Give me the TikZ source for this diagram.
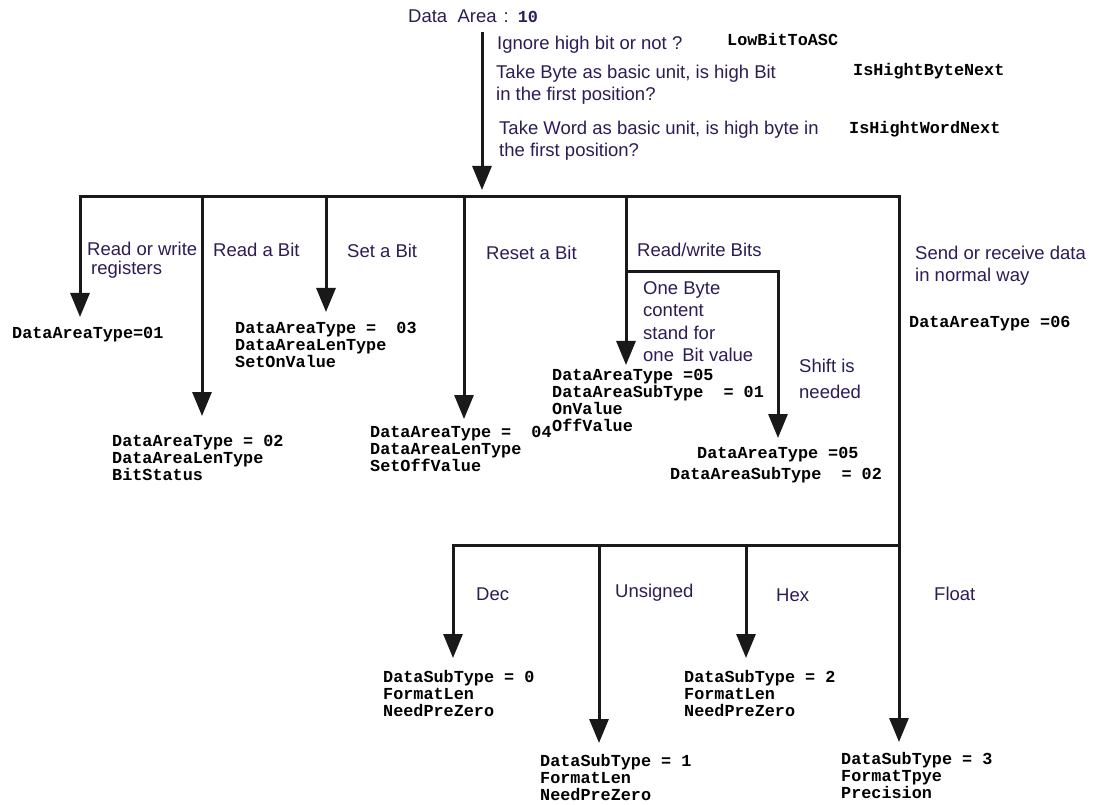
\documentclass[tikz,border=0pt]{standalone}
\usepackage{fontspec}
\setmainfont{Liberation Sans}
\newfontfamily\codefont{Liberation Mono}[BoldFont={Liberation Mono Bold}]
\usetikzlibrary{arrows.meta}
\definecolor{lbl}{RGB}{45,28,85}
\definecolor{ln}{RGB}{25,25,25}
\tikzset{
  lab/.style={anchor=base west,inner sep=0pt,align=left,text=lbl,
    font=\fontsize{18.5pt}{22.5pt}\selectfont},
  code/.style={anchor=base west,inner sep=0pt,align=left,text=black,
    font=\codefont\bfseries\fontsize{16.8pt}{17pt}\selectfont},
  wire/.style={draw=ln,line width=3pt,line cap=rect},
  flow/.style={draw=ln,line width=3pt,-{Triangle[length=24pt,width=19pt]}},
}
\begin{document}
\begin{tikzpicture}[x=1pt,y=-1pt]
\useasboundingbox[fill=white] (0,0) rectangle (1096,805);
% note: for multi-line nodes the base anchor is the baseline of the last line

% header
\node[lab] (title) at (408,23) {Data\ \ Area\hspace{7pt}:\hspace{9pt}{\codefont\bfseries\fontsize{16.8pt}{17pt}\selectfont 10}};
\node[lab] (q1) at (497,50) {Ignore high bit or not ?};
\node[code] (c1) at (727,46) {LowBitToASC};
\node[lab] (q2) at (496,101) {Take Byte as basic unit, is high Bit\\in the first position?};
\node[code] (c2) at (853,76) {IsHightByteNext};
\node[lab] (q3) at (499,157) {Take Word as basic unit, is high byte in\\the first position?};
\node[code] (c3) at (849,134) {IsHightWordNext};

% top bar
\coordinate (src) at (482,32);
\coordinate (srctip) at (482,190);
\coordinate (b1) at (80,197);
\coordinate (b2) at (202,197);
\coordinate (b3) at (326,197);
\coordinate (b4) at (464,197);
\coordinate (b5) at (626,197);
\coordinate (b6) at (899,197);
\draw[flow] (src) -- (srctip);
\draw[wire] (b1) -- (b6);

% branch labels
\node[lab] (l1) at (87,275) {Read or write\\[-3.5pt]\hspace*{4pt}registers};
\node[lab] (l2) at (213,257) {Read a Bit};
\node[lab] (l3) at (347,258) {Set a Bit};
\node[lab] (l4) at (486,260) {Reset a Bit};
\node[lab] (l5) at (637,257) {Read/write Bits};
\node[lab] (l5a) at (643,362) {One Byte\\content\\stand for\\one\ \,Bit value};
\node[lab] (l5b) at (799,398) {Shift is\\[3pt]needed};
\node[lab] (l6) at (915,282) {Send or receive data\\in normal way};

% branch results
\node[code] (r1) at (12,338) {DataAreaType=01};
\node[code] (r2) at (112,480) {DataAreaType = 02\\DataAreaLenType\\BitStatus};
\node[code] (r3) at (235,367) {DataAreaType =\ \ 03\\DataAreaLenType\\SetOnValue};
\node[code] (r4) at (370,471) {DataAreaType =\ \ 04\\DataAreaLenType\\SetOffValue};
\node[code] (r5a) at (552,431) {DataAreaType =05\\DataAreaSubType\ \ = 01\\OnValue\\OffValue};
\node[code] (r5b1) at (697,458) {DataAreaType =05};
\node[code] (r5b2) at (670,479) {DataAreaSubType\ \ = 02};
\node[code] (r6) at (909,327) {DataAreaType =06};

% arrows of the top branches
\coordinate (t1) at (80,317);
\coordinate (t2) at (202,416);
\coordinate (t3) at (326,312);
\coordinate (t4) at (464,419);
\coordinate (t5) at (626,365);
\coordinate (k5) at (626,272);
\coordinate (k5r) at (778,272);
\coordinate (t5b) at (778,438);
\draw[flow] (b1) -- (t1);
\draw[flow] (b2) -- (t2);
\draw[flow] (b3) -- (t3);
\draw[flow] (b4) -- (t4);
\draw[flow] (b5) -- (t5);
\draw[flow] (k5) -- (k5r) -- (t5b);

% lower bar
\coordinate (d6) at (899,545);
\coordinate (d1) at (453,545);
\coordinate (d2) at (599,545);
\coordinate (d3) at (746,545);
\draw[wire] (b6) -- (d6) -- (d1);
\coordinate (u1) at (453,658);
\coordinate (u2) at (599,743);
\coordinate (u3) at (746,658);
\coordinate (u4) at (899,742);
\draw[flow] (d1) -- (u1);
\draw[flow] (d2) -- (u2);
\draw[flow] (d3) -- (u3);
\draw[flow] (d6) -- (u4);

\node[lab] (s1) at (476,600) {Dec};
\node[lab] (s2) at (615,597) {Unsigned};
\node[lab] (s3) at (776,601) {Hex};
\node[lab] (s4) at (934,600) {Float};

\node[code] (v1) at (383,716) {DataSubType = 0\\FormatLen\\NeedPreZero};
\node[code] (v2) at (540,800) {DataSubType = 1\\FormatLen\\NeedPreZero};
\node[code] (v3) at (684,716) {DataSubType = 2\\FormatLen\\NeedPreZero};
\node[code] (v4) at (841,798) {DataSubType = 3\\FormatTpye\\Precision};
\end{tikzpicture}
\end{document}
